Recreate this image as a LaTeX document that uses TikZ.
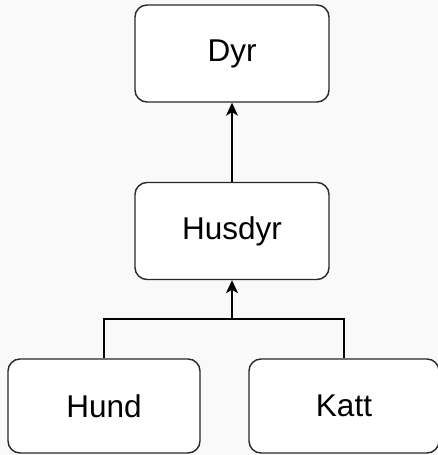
\documentclass[tikz,border=0pt]{standalone}
\usepackage{fontspec}
\setmainfont{Liberation Sans}
\usetikzlibrary{arrows.meta}
\definecolor{bg}{RGB}{249,249,249}
\definecolor{edge}{RGB}{40,40,40}
\begin{document}
\begin{tikzpicture}[x=1pt,y=1pt,
  box/.style={draw=edge,fill=white,line width=1.4pt,rounded corners=12pt,
    minimum width=194pt,minimum height=97pt,inner sep=0pt,
    font=\fontsize{31.5}{38}\selectfont},
  conn/.style={draw=black,line width=1.4pt},
  tip/.style={-{Stealth[length=13pt,width=12pt,inset=3.5pt]}}]
\useasboundingbox[fill=bg] (0,0) rectangle (438,455);
\node[box] (dyr) at (232,401.5) {Dyr};
\node[box] (husdyr) at (232,224) {Husdyr};
\node[box,minimum width=192pt,minimum height=94pt] (hund) at (104,49) {Hund};
\node[box,minimum width=190pt,minimum height=94pt] (katt) at (344,49) {Katt};
\coordinate (j) at (232,136);
\draw[conn,tip] (husdyr.north) -- (dyr.south);
\draw[conn] (hund.north) -- (hund.north |- j) -- (katt.north |- j) -- (katt.north);
\draw[conn,tip] (j) -- (husdyr.south);
\end{tikzpicture}
\end{document}
